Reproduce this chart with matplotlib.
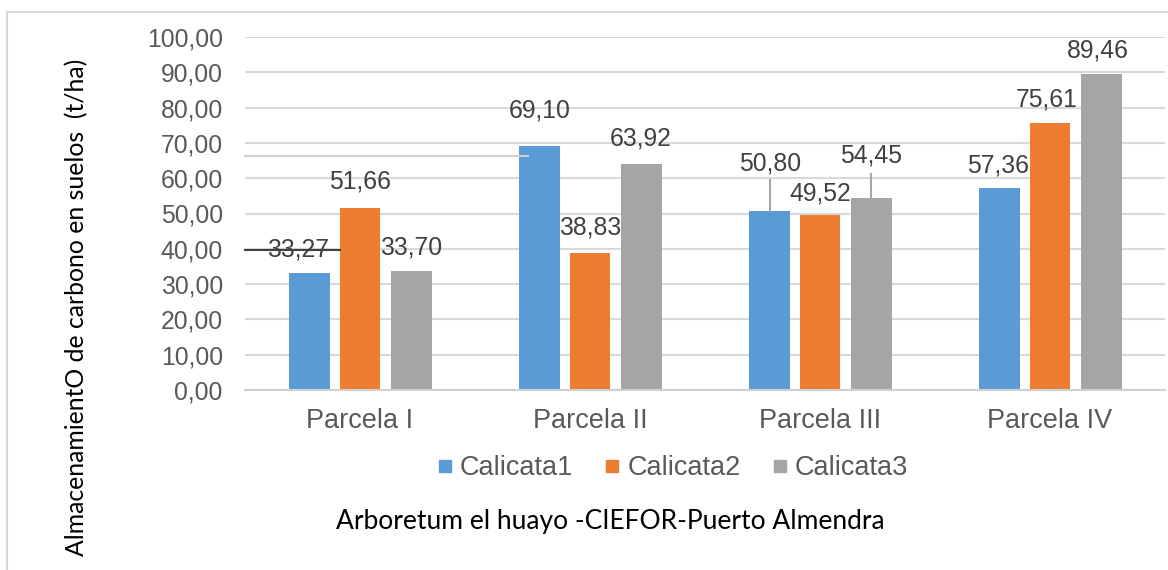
import matplotlib
matplotlib.use("Agg")
import matplotlib.pyplot as plt
from matplotlib.lines import Line2D
import numpy as np

categories = ["Parcela I", "Parcela II", "Parcela III", "Parcela IV"]
series_names = ["Calicata1", "Calicata2", "Calicata3"]
calicata1 = [33.27, 69.10, 50.80, 57.36]
calicata2 = [51.66, 38.83, 49.52, 75.61]
calicata3 = [33.70, 63.92, 54.45, 89.46]
yticks = [0, 10, 20, 30, 40, 50, 60, 70, 80, 90, 100]
ylabel = "AlmacenamientO de carbono en suelos  (t/ha)"
xlabel = "Arboretum el huayo -CIEFOR-Puerto Almendra"

colors = ["#5B9BD5", "#ED7D31", "#A5A5A5"]
series = [calicata1, calicata2, calicata3]

W, H = 1168, 570
fig = plt.figure(figsize=(W / 100, H / 100), dpi=100)
ax = fig.add_axes([245 / W, 1 - 390 / H, 920 / W, (390 - 37) / H])

FONT = "Liberation Sans"
x = np.arange(len(categories))
offsets = [-0.218, 0.0, 0.222]
bw = 0.178
for s, vals in enumerate(series):
    ax.bar(x + offsets[s], vals, width=bw, color=colors[s], zorder=3)

ax.set_xlim(-0.5, 3.5)
ax.set_ylim(0, 100)
ax.set_yticks(yticks)
ax.set_yticklabels([f"{v:.2f}".replace(".", ",") for v in yticks],
                   fontsize=17.8, color="#595959", family=FONT)
ax.set_xticks(x)
ax.set_xticklabels(categories, fontsize=19.5, color="#595959", family=FONT)
ax.tick_params(axis="both", length=0)
ax.tick_params(axis="y", pad=16)
ax.tick_params(axis="x", pad=13)
ax.grid(axis="y", color="#d9d9d9", linewidth=1.5, zorder=0)
for sp in ["top", "right", "left"]:
    ax.spines[sp].set_visible(False)
ax.spines["bottom"].set_color("#d0d0d0")
ax.spines["bottom"].set_linewidth(1.5)
ax.spines["bottom"].set_zorder(4)

# data label offsets (px): (dx, dy above bar top)
px_x = 4 / 920.0
px_y = 100 / 353.0
label_off = [
    [(-12, 23), (0, 36), (0, 47), (-2, 22)],
    [(0, 26), (0, 25), (0, 22), (-3, 24)],
    [(0, 24), (0, 26), (0, 42), (-3, 24)],
]
for s, vals in enumerate(series):
    for i, v in enumerate(vals):
        dx, dy = label_off[s][i]
        ax.text(x[i] + offsets[s] + dx * px_x, v + dy * px_y,
                f"{v:.2f}".replace(".", ","), ha="center", va="center",
                fontsize=17.8, color="#404040", family=FONT, zorder=5)

# leader lines
ax.plot([x[2] + offsets[0]] * 2, [calicata1[2], calicata1[2] + 31 * px_y],
        color="#a6a6a6", lw=1.5, zorder=4)
ax.plot([x[2] + offsets[2]] * 2, [calicata3[2], calicata3[2] + 24 * px_y],
        color="#a6a6a6", lw=1.5, zorder=4)
ax.plot([-0.5, x[0] + offsets[0] + 30 * px_x], [calicata1[0] + 22.5 * px_y] * 2,
        color="#404040", lw=1.5, zorder=6, clip_on=False)
ax.plot([-0.5, x[1] + offsets[0] - 12 * px_x], [calicata1[1] - 9.5 * px_y] * 2,
        color="#d0d0d0", lw=1.5, zorder=6, clip_on=False)

# legend
handles = [Line2D([0], [0], marker="s", linestyle="none", markersize=8,
                  markerfacecolor=c, markeredgecolor=c) for c in colors]
fig.legend(handles, series_names, loc="center", bbox_to_anchor=(673 / W, 1 - 468 / H),
           ncol=3, frameon=False, handlelength=0.5, handletextpad=0.3,
           columnspacing=1.2, prop={"family": FONT, "size": 19.5},
           labelcolor="#595959")

fig.text(610 / W, 1 - 522 / H, xlabel, ha="center", va="center",
         fontsize=19, family="Lato", color="black")
fig.text(77 / W, 1 - 307 / H, ylabel, ha="center", va="center", rotation=90,
         fontsize=17.8, family="Lato", color="black")

# outer frame (left and top edges)
fig.add_artist(Line2D([7 / W, 7 / W], [0, 1 - 12 / H], color="#d9d9d9", lw=1.5))
fig.add_artist(Line2D([7 / W, 1], [1 - 12 / H, 1 - 12 / H], color="#d9d9d9", lw=1.5))

fig.savefig("out.png", dpi=100)
